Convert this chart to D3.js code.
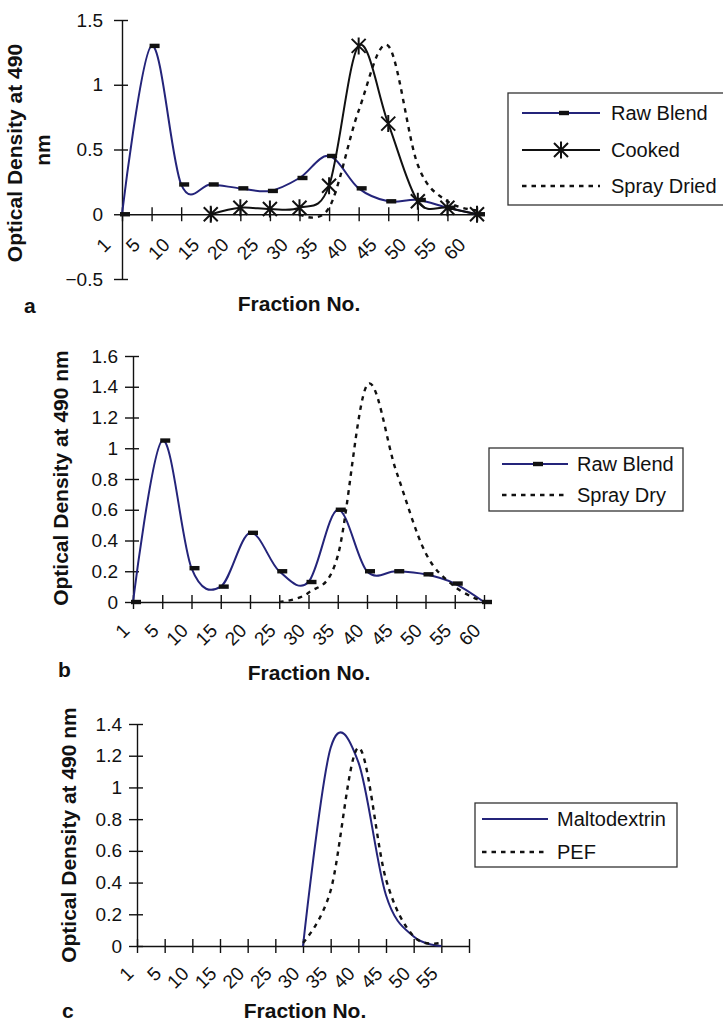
<!DOCTYPE html>
<html>
<head>
<meta charset="utf-8">
<title>Optical density of fractions</title>
<style>
body { margin: 0; background: white; }
svg { display: block; }
text { font-family: "Liberation Sans", Arial, sans-serif; fill: #111; }
.tick text, .xlab { font-size: 19px; }
.legtext { font-size: 20px; }
.title { font-size: 21px; font-weight: bold; }
.axis path, .axis line { stroke: #111; stroke-width: 1.4px; }
</style>
</head>
<body>
<svg width="723" height="1024"></svg>
<script src="https://d3js.org/d3.v7.min.js"></script>
<script>

// ---- data ----
var fractions = ["1", "5", "10", "15", "20", "25", "30", "35", "40", "45", "50", "55", "60"];
var fractionsC = ["1", "5", "10", "15", "20", "25", "30", "35", "40", "45", "50", "55"];

// panel a
var rawBlendA = [0, 1.3, 0.23, 0.23, 0.2, 0.18, 0.28, 0.45, 0.2, 0.1, 0.11, 0.05, 0];
var cookedA   = [null, null, null, 0, 0.05, 0.04, 0.05, 0.22, 1.3, 0.7, 0.1, 0.05, 0];
var sprayDriedA = [null, null, null, null, null, null, 0, 0.05, 0.8, 1.3, 0.38, 0.1, 0.03];
var yTicksA = [-0.5, 0, 0.5, 1, 1.5];

// panel b
var rawBlendB = [0, 1.05, 0.22, 0.1, 0.45, 0.2, 0.13, 0.6, 0.2, 0.2, 0.18, 0.12, 0];
var sprayDryB = [null, null, null, null, null, 0, 0.06, 0.3, 1.41, 0.85, 0.32, 0.1, 0];
var yTicksB = [0, 0.2, 0.4, 0.6, 0.8, 1, 1.2, 1.4, 1.6];

// panel c
var maltodextrinC = [null, null, null, null, null, null, 0, 1.25, 1.16, 0.32, 0.06, 0];
var pefC = [null, null, null, null, null, null, 0.02, 0.35, 1.25, 0.42, 0.06, 0.02];
var yTicksC = [0, 0.2, 0.4, 0.6, 0.8, 1, 1.2, 1.4];

var navy = "#24247a", black = "#111";

var svg = d3.select("svg");

function drawPanel(p) {
  var x = d3.scalePoint().domain(d3.range(p.slots)).range(p.xRange);
  var y = d3.scaleLinear().domain(p.yDomain).range(p.yRange);
  var g = svg.append("g");

  // y axis (ticks cross the line)
  var ya = g.append("g")
    .attr("class", "axis")
    .attr("transform", "translate(" + p.xRange[0] + ",0)")
    .call(d3.axisLeft(y).tickValues(p.yTicks).tickSize(8).tickSizeOuter(0)
      .tickPadding(p.yPad).tickFormat(d3.format("")));
  ya.selectAll(".tick line").attr("x1", 6);
  ya.selectAll(".tick text").attr("fill", black);
  ya.attr("font-family", null).attr("font-size", null);

  // x axis at zero
  var xa = g.append("g")
    .attr("class", "axis")
    .attr("transform", "translate(0," + y(0) + ")")
    .call(d3.axisBottom(x).tickSize(7).tickSizeOuter(0).tickFormat(""));
  xa.selectAll(".tick line").attr("y1", -7);

  g.selectAll(".xlab")
    .data(p.labels)
    .enter().append("text")
      .attr("class", "xlab")
      .attr("text-anchor", "end")
      .attr("dy", "0.35em")
      .attr("transform", function(d, i) {
        return "translate(" + (x(i) + p.labDx) + "," + (y(0) + p.labDy) + ") rotate(-45)";
      })
      .text(function(d) { return d; });

  // series
  var line = d3.line()
    .defined(function(d) { return d != null; })
    .x(function(d, i) { return x(i); })
    .y(function(d) { return y(d); })
    .curve(d3.curveCardinal.tension(0));

  p.series.forEach(function(s) {
    g.append("path")
      .datum(s.values)
      .attr("d", line)
      .attr("fill", "none")
      .attr("stroke", s.color)
      .attr("stroke-width", s.dash ? 2.4 : 2)
      .attr("stroke-dasharray", s.dash || null);

    var pts = s.values.map(function(v, i) { return {i: i, v: v}; })
      .filter(function(d) { return d.v != null; });
    drawMarkers(g, s.marker, pts.map(function(d) { return [x(d.i), y(d.v)]; }));
  });

  // legend
  var lg = g.append("g").attr("transform", "translate(" + p.legend.x + "," + p.legend.y + ")");
  lg.append("rect")
    .attr("width", p.legend.w)
    .attr("height", p.legend.h)
    .attr("fill", "white")
    .attr("stroke", "#333")
    .attr("stroke-width", 1.3);
  p.series.forEach(function(s, k) {
    var cy = p.legend.rows[k];
    lg.append("line")
      .attr("x1", p.legend.lx1).attr("x2", p.legend.lx2)
      .attr("y1", cy).attr("y2", cy)
      .attr("stroke", s.color)
      .attr("stroke-width", s.dash ? 2.6 : 2)
      .attr("stroke-dasharray", s.dash || null);
    drawMarkers(lg, s.marker, [[(p.legend.lx1 + p.legend.lx2) / 2, cy]]);
    lg.append("text")
      .attr("class", "legtext")
      .attr("x", p.legend.tx)
      .attr("y", cy)
      .attr("dy", "0.35em")
      .text(s.name);
  });

  // titles
  p.yTitle.forEach(function(t) {
    g.append("text")
      .attr("class", "title")
      .attr("text-anchor", "middle")
      .attr("transform", "translate(" + t.x + "," + t.y + ") rotate(-90)")
      .text(t.text);
  });
  g.append("text")
    .attr("class", "title")
    .attr("text-anchor", "middle")
    .attr("x", p.xTitle[0]).attr("y", p.xTitle[1])
    .text("Fraction No.");
  g.append("text")
    .attr("class", "title")
    .attr("x", p.letter[0]).attr("y", p.letter[1])
    .text(p.letter[2]);
}

function drawMarkers(g, kind, pts) {
  if (kind == "dash") {
    g.selectAll(null).data(pts).enter().append("rect")
      .attr("x", function(d) { return d[0] - 2; })
      .attr("y", function(d) { return d[1] - 2.2; })
      .attr("width", 10).attr("height", 4.4)
      .attr("fill", black);
  } else if (kind == "star") {
    g.selectAll(null).data(pts).enter().append("path")
      .attr("transform", function(d) { return "translate(" + d[0] + "," + d[1] + ")"; })
      .attr("d", "M0,-8.5V8.5M-7,-7L7,7M-7,7L7,-7")
      .attr("stroke", black)
      .attr("stroke-width", 2)
      .attr("fill", "none");
  }
}

drawPanel({
  slots: 13, labels: fractions,
  xRange: [122, 477], yDomain: [-0.5, 1.5], yRange: [279, 20], yTicks: yTicksA, yPad: 11,
  labDx: -15, labDy: 27,
  series: [
    {name: "Raw Blend", values: rawBlendA, color: navy, marker: "dash"},
    {name: "Cooked", values: cookedA, color: black, marker: "star"},
    {name: "Spray Dried", values: sprayDriedA, color: black, dash: "4.5,5"}
  ],
  legend: {x: 508, y: 93, w: 220, h: 112, rows: [20, 57, 93], lx1: 14, lx2: 92, tx: 103},
  yTitle: [{text: "Optical Density at 490", x: 22, y: 153}, {text: "nm", x: 50, y: 150}],
  xTitle: [299, 311], letter: [24, 313, "a"]
});

drawPanel({
  slots: 13, labels: fractions,
  xRange: [133, 484], yDomain: [0, 1.6], yRange: [602, 356], yTicks: yTicksB, yPad: 7,
  labDx: -7, labDy: 25,
  series: [
    {name: "Raw Blend", values: rawBlendB, color: navy, marker: "dash"},
    {name: "Spray Dry", values: sprayDryB, color: black, dash: "4.5,5"}
  ],
  legend: {x: 489, y: 448, w: 194, h: 63, rows: [16, 47], lx1: 13, lx2: 79, tx: 88},
  yTitle: [{text: "Optical Density at 490 nm", x: 68, y: 478}],
  xTitle: [309, 680], letter: [58, 677, "b"]
});

drawPanel({
  slots: 13, labels: fractionsC,
  xRange: [137, 469], yDomain: [0, 1.4], yRange: [946, 724], yTicks: yTicksC, yPad: 7,
  labDx: -7, labDy: 24,
  series: [
    {name: "Maltodextrin", values: maltodextrinC, color: navy},
    {name: "PEF", values: pefC, color: black, dash: "4.5,5"}
  ],
  legend: {x: 475, y: 803, w: 202, h: 64, rows: [16, 49], lx1: 7, lx2: 73, tx: 82},
  yTitle: [{text: "Optical Density at 490 nm", x: 76, y: 835}],
  xTitle: [305, 1018], letter: [62, 1018, "c"]
});

</script>
</body>
</html>
